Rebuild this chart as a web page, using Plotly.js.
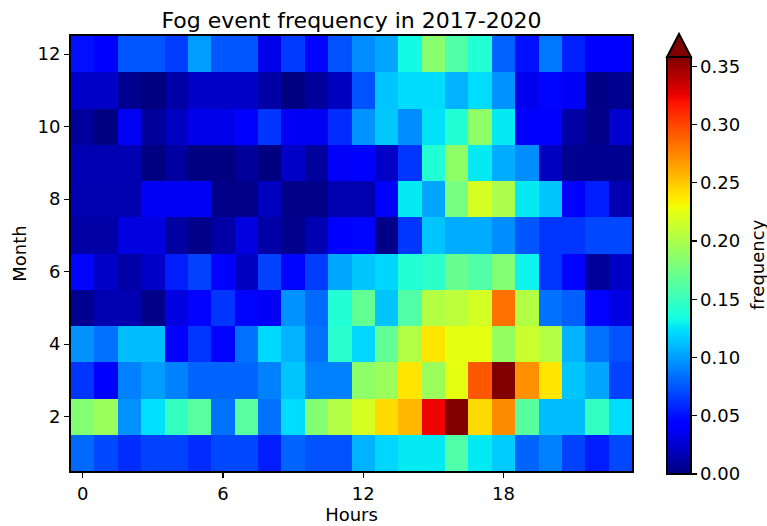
<!DOCTYPE html>
<html>
<head>
<meta charset="utf-8">
<script src="https://cdn.plot.ly/plotly-3.0.1.min.js"></script>
<style>html,body{margin:0;padding:0;background:#fff;}#chart{width:767px;height:526px;}</style>
</head>
<body>
<div id="chart"></div>
<script>
// Hours (columns) and months (rows)
const hours = [0,1,2,3,4,5,6,7,8,9,10,11,12,13,14,15,16,17,18,19,20,21,22,23];
const months = [1,2,3,4,5,6,7,8,9,10,11,12];

// Fog event frequency per month (rows) and hour (columns)
const jan = [0.082,0.070,0.060,0.068,0.068,0.060,0.070,0.070,0.055,0.080,0.073,0.073,0.107,0.120,0.127,0.127,0.160,0.127,0.116,0.080,0.090,0.068,0.055,0.070];
const feb = [0.182,0.193,0.096,0.123,0.148,0.164,0.085,0.164,0.085,0.122,0.182,0.203,0.218,0.243,0.256,0.324,0.360,0.243,0.273,0.164,0.111,0.111,0.148,0.122];
const mar = [0.063,0.042,0.090,0.100,0.090,0.080,0.080,0.080,0.090,0.114,0.090,0.090,0.187,0.193,0.239,0.193,0.225,0.293,0.360,0.271,0.239,0.114,0.103,0.068];
const apr = [0.096,0.085,0.111,0.111,0.040,0.063,0.044,0.085,0.121,0.107,0.085,0.143,0.120,0.168,0.203,0.239,0.225,0.225,0.190,0.213,0.203,0.107,0.085,0.073];
const may = [0.005,0.015,0.015,0.003,0.030,0.044,0.063,0.046,0.038,0.096,0.082,0.140,0.168,0.114,0.160,0.203,0.207,0.217,0.283,0.203,0.085,0.078,0.044,0.030];
const jun = [0.046,0.022,0.012,0.022,0.055,0.068,0.040,0.020,0.068,0.045,0.066,0.103,0.114,0.120,0.140,0.145,0.170,0.160,0.182,0.130,0.063,0.046,0.008,0.022];
const jul = [0.012,0.012,0.030,0.030,0.010,0.003,0.012,0.030,0.012,0.004,0.016,0.042,0.045,0.003,0.063,0.114,0.105,0.105,0.094,0.075,0.063,0.063,0.070,0.070];
const aug = [0.015,0.015,0.015,0.036,0.036,0.036,0.003,0.003,0.020,0.003,0.003,0.015,0.015,0.042,0.127,0.103,0.177,0.218,0.200,0.127,0.114,0.040,0.055,0.015];
const sep = [0.016,0.016,0.016,0.000,0.010,0.000,0.000,0.008,0.000,0.022,0.008,0.038,0.042,0.022,0.063,0.140,0.188,0.127,0.105,0.094,0.020,0.005,0.005,0.005];
const oct = [0.008,0.000,0.036,0.008,0.020,0.033,0.033,0.042,0.063,0.036,0.036,0.060,0.096,0.115,0.094,0.124,0.140,0.188,0.127,0.042,0.040,0.012,0.003,0.025];
const nov = [0.022,0.022,0.005,0.000,0.012,0.022,0.022,0.022,0.012,0.000,0.008,0.020,0.073,0.114,0.122,0.122,0.107,0.122,0.096,0.035,0.045,0.038,0.002,0.005];
const dec = [0.050,0.042,0.075,0.075,0.066,0.100,0.075,0.075,0.033,0.065,0.046,0.073,0.094,0.103,0.133,0.185,0.160,0.140,0.079,0.050,0.087,0.056,0.042,0.042];

const freq = [jan,feb,mar,apr,may,jun,jul,aug,sep,oct,nov,dec];

const xTicks = [0,6,12,18];
const yTicks = [2,4,6,8,10,12];
const cbTicks = [0,0.05,0.10,0.15,0.20,0.25,0.30,0.35];

// matplotlib "jet" colormap segment data
const seg = {
  r: [[0,0],[0.35,0],[0.66,1],[0.89,1],[1,0.5]],
  g: [[0,0],[0.125,0],[0.375,1],[0.64,1],[0.91,0],[1,0]],
  b: [[0,0.5],[0.11,1],[0.34,1],[0.65,0],[1,0]]
};
function interp(pts, f){
  for(let i=1;i<pts.length;i++){
    if(f<=pts[i][0]){
      const [x0,y0]=pts[i-1],[x1,y1]=pts[i];
      return y0+(y1-y0)*(f-x0)/(x1-x0);
    }
  }
  return pts[pts.length-1][1];
}
const jetScale = [];
for(let i=0;i<=100;i++){
  const f=i/100;
  const r=Math.round(255*interp(seg.r,f)), g=Math.round(255*interp(seg.g,f)), b=Math.round(255*interp(seg.b,f));
  jetScale.push([f,`rgb(${r},${g},${b})`]);
}

const font = "DejaVu Sans, Arial, sans-serif";
const L=71, R=135, T=36, B=55;
const W=767, H=526;
const pw=W-L-R, ph=H-T-B;
const cbLeftPx=667, cbTopPx=57, cbBotPx=474, cbThick=24;
const px2x = p => (p-L)/pw;
const py2y = p => (H-B-p)/ph;

const trace = {
  type:'heatmap',
  x: hours, y: months, z: freq,
  colorscale: jetScale,
  zmin:0, zmax:0.358,
  zsmooth:false,
  hoverinfo:'x+y+z',
  colorbar:{
    x: px2x(cbLeftPx), xanchor:'left', xpad:0,
    y: py2y(cbBotPx), yanchor:'bottom', ypad:0,
    len: (cbBotPx-cbTopPx)/ph, lenmode:'fraction',
    thickness: cbThick, thicknessmode:'pixels',
    outlinewidth:2, outlinecolor:'#000',
    tickvals: cbTicks, tickformat:'.2f',
    ticks:'outside', ticklen:5, tickwidth:1.2, tickcolor:'#000',
    tickfont:{family:font, size:18, color:'#000'}
  }
};

const cx = px2x(cbLeftPx), cx2 = px2x(cbLeftPx+cbThick);
const layout = {
  width:W, height:H,
  margin:{l:L, r:R, t:T, b:B},
  paper_bgcolor:'#fff', plot_bgcolor:'#fff',
  title:{text:'Fog event frequency in 2017-2020', x:(L+pw/2)/W, xanchor:'center', y:1-20/H, yanchor:'middle',
         font:{family:font, size:22, color:'#000'}},
  xaxis:{
    range:[-0.5,23.5], tickvals:xTicks, ticks:'outside', ticklen:5, tickwidth:1.2, tickcolor:'#000',
    showline:true, linewidth:2, linecolor:'#000', mirror:true, showgrid:false, zeroline:false,
    tickfont:{family:font, size:18, color:'#000'},
    title:{text:'Hours', font:{family:font, size:18, color:'#000'}, standoff:4}
  },
  yaxis:{
    range:[0.5,12.5], tickvals:yTicks, ticks:'outside', ticklen:5, tickwidth:1.2, tickcolor:'#000',
    showline:true, linewidth:2, linecolor:'#000', mirror:true, showgrid:false, zeroline:false,
    tickfont:{family:font, size:18, color:'#000'},
    title:{text:'Month', font:{family:font, size:18, color:'#000'}, standoff:6}
  },
  annotations:[{
    text:'frequency', xref:'paper', yref:'paper', x:px2x(757), y:py2y(265),
    xanchor:'center', yanchor:'middle', textangle:-90, showarrow:false,
    font:{family:font, size:18, color:'#000'}
  }],
  shapes:[{
    type:'path', xref:'paper', yref:'paper',
    path:`M ${cx} ${py2y(cbTopPx)} L ${(cx+cx2)/2} ${py2y(34)} L ${cx2} ${py2y(cbTopPx)} Z`,
    fillcolor:'#800000', line:{color:'#000', width:2}
  }]
};

Plotly.newPlot('chart',[trace],layout,{displayModeBar:false, staticPlot:true});
</script>
</body>
</html>
